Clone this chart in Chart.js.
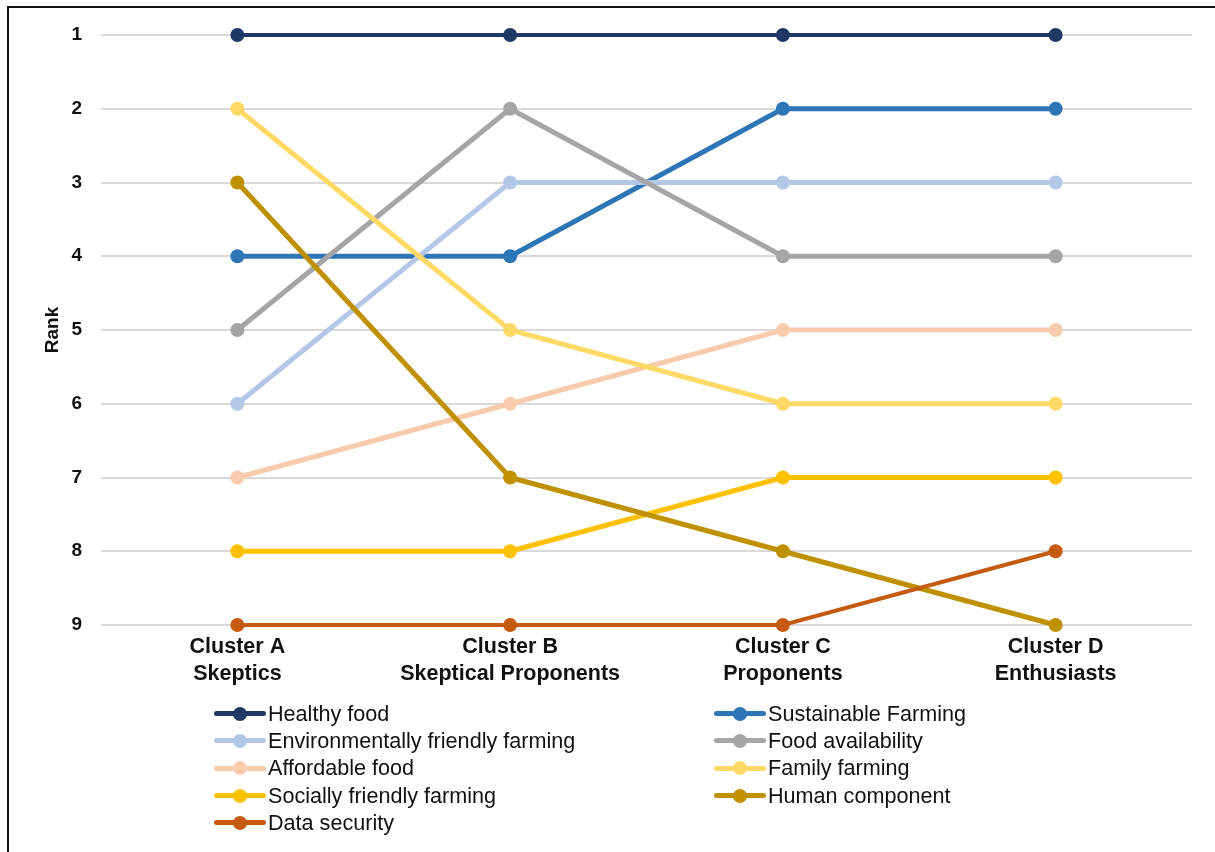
<!DOCTYPE html>
<html>
<head>
<meta charset="utf-8">
<script src="https://cdn.jsdelivr.net/npm/chart.js@4/dist/chart.umd.min.js"></script>
<style>
  html, body { margin: 0; padding: 0; background: #fff; }
  #wrap { position: relative; width: 1215px; height: 852px; overflow: hidden; }
  #frame { position: absolute; left: 7px; top: 6px; width: 1220px; height: 860px;
           border-left: 2px solid #111; border-top: 2px solid #111; box-sizing: border-box; }
  canvas { position: absolute; left: 0; top: 0; }
  #legend { position: absolute; left: 214px; top: 700px; display: grid;
            grid-template-columns: 500px 300px; grid-auto-rows: 27.3px;
            font-family: "Liberation Sans", Arial, sans-serif; font-size: 21.6px; color: #111; }
  .item { display: flex; align-items: center; white-space: nowrap; }
  .sw { position: relative; width: 52px; height: 14px; margin-right: 2px; }
  .sw .ln { position: absolute; left: 0; right: 0; top: 4.5px; height: 5px; border-radius: 2.5px; }
  .sw .dt { position: absolute; left: 19px; top: 0; width: 14px; height: 14px; border-radius: 50%; }
</style>
</head>
<body>
<div id="wrap">
  <div id="frame"></div>
  <canvas id="c" width="1215" height="852"></canvas>
  <div id="legend"></div>
</div>
<script>
const categories = [["Cluster A","Skeptics"],["Cluster B","Skeptical Proponents"],["Cluster C","Proponents"],["Cluster D","Enthusiasts"]];
const seriesNames = ["Healthy food","Sustainable Farming","Environmentally friendly farming","Food availability","Affordable food","Family farming","Socially friendly farming","Human component","Data security"];
const healthyFood = [1,1,1,1];
const sustainableFarming = [4,4,2,2];
const envFriendlyFarming = [6,3,3,3];
const foodAvailability = [5,2,4,4];
const affordableFood = [7,6,5,5];
const familyFarming = [2,5,6,6];
const sociallyFriendlyFarming = [8,8,7,7];
const humanComponent = [3,7,8,9];
const dataSecurity = [9,9,9,8];
const seriesValues = [healthyFood, sustainableFarming, envFriendlyFarming, foodAvailability, affordableFood, familyFarming, sociallyFriendlyFarming, humanComponent, dataSecurity];
const colors = ["#203864","#2E75B6","#B4C7E7","#A5A5A5","#F8CBAD","#FFD966","#FFC000","#BF9000","#C55A11"];
const lineWidths = [4,5,5,5,5,5,5,5,4];
const rankTicks = [1,2,3,4,5,6,7,8,9];

const datasets = seriesNames.map((n, i) => ({
  label: n,
  data: seriesValues[i],
  borderColor: colors[i],
  backgroundColor: colors[i],
  pointBackgroundColor: colors[i],
  pointBorderColor: colors[i],
  borderWidth: lineWidths[i],
  pointRadius: 7,
  pointBorderWidth: 0,
  pointHoverRadius: 7,
  tension: 0,
  clip: false,
  order: seriesNames.length - i
}));

const FONT = '"Liberation Sans", Arial, sans-serif';
new Chart(document.getElementById('c'), {
  type: 'line',
  data: { labels: categories, datasets },
  options: {
    responsive: false,
    animation: false,
    events: [],
    layout: { padding: { left: 37, right: 23, top: 35, bottom: 0 } },
    plugins: { legend: { display: false }, tooltip: { enabled: false } },
    scales: {
      x: {
        offset: true,
        grid: { display: false, drawTicks: false },
        border: { display: false },
        ticks: { color: '#111', padding: 8.5, maxRotation: 0, autoSkip: false,
                 font: { family: FONT, size: 21.5, weight: 'bold', lineHeight: 1.27 } },
        afterFit: s => { s.height = 852 - 35 - 590; }
      },
      y: {
        reverse: true, min: 1, max: 9,
        afterBuildTicks: s => { s.ticks = rankTicks.map(v => ({ value: v })); },
        grid: { color: '#d9d9d9', lineWidth: 2, drawTicks: false },
        border: { display: false },
        ticks: { color: '#111', padding: 19, font: { family: FONT, size: 19, weight: 'bold' } },
        title: { display: true, text: 'Rank', color: '#111', font: { family: FONT, size: 19, weight: 'bold' } },
        afterFit: s => { s.width = 101 - 37; }
      }
    }
  }
});

const lg = document.getElementById('legend');
seriesNames.forEach((n, i) => {
  const d = document.createElement('div');
  d.className = 'item';
  d.innerHTML = '<div class="sw"><div class="ln" style="background:' + colors[i] + '"></div><div class="dt" style="background:' + colors[i] + '"></div></div><span></span>';
  d.querySelector('span').textContent = n;
  lg.appendChild(d);
});
</script>
</body>
</html>
